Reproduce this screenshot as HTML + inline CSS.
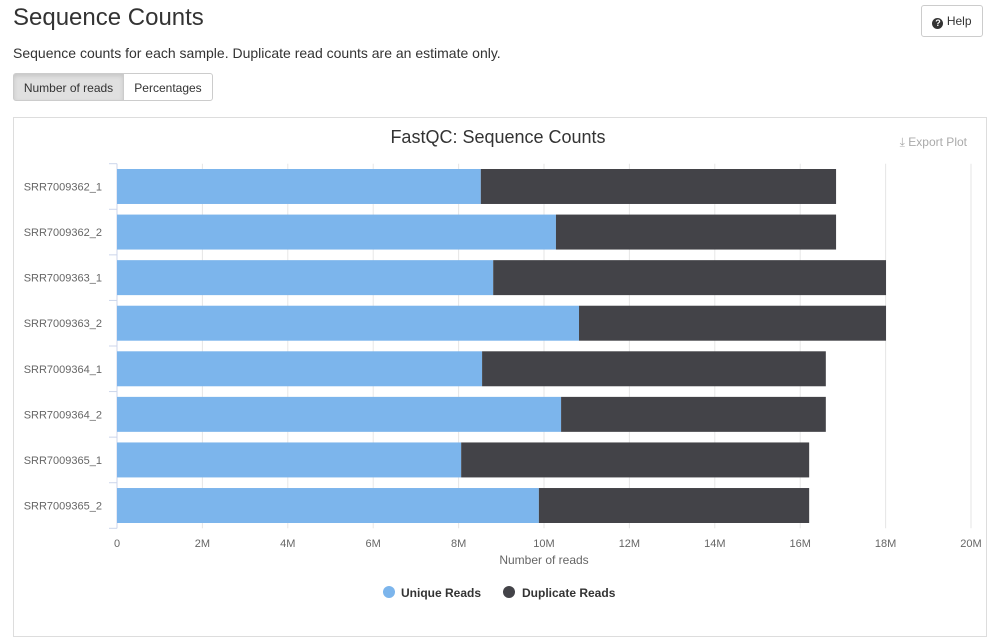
<!DOCTYPE html>
<html><head><meta charset="utf-8"><style>
body{margin:0;width:995px;height:608px;overflow:hidden;background:#fff;font-family:"Liberation Sans",sans-serif;color:#333;position:relative}
h1{position:absolute;left:13px;top:4px;margin:0;font-size:24px;font-weight:400;color:#333}
.desc{position:absolute;left:13px;top:45px;font-size:14px}
.btn{position:absolute;top:73px;height:28px;line-height:28px;font-size:12px;border:1px solid #ccc;text-align:center;box-sizing:border-box}
.help{position:absolute;left:921px;top:5px;width:62px;height:32px;border:1px solid #ccc;border-radius:3px;font-size:12px;line-height:30px;text-align:center;box-sizing:border-box}
.qi{display:inline-block;width:11px;height:11px;border-radius:50%;background:#333;color:#fff;font-size:9px;line-height:11px;font-weight:bold;vertical-align:-1px}
.panel{position:absolute;left:13px;top:117px;width:974px;height:520px;border:1px solid #ddd;box-sizing:border-box}
</style></head><body>
<h1>Sequence Counts</h1>
<div class="desc">Sequence counts for each sample. Duplicate read counts are an estimate only.</div>
<div class="btn" style="left:13px;width:111px;background:#e0e0e0;border-radius:3px 0 0 3px;box-shadow:inset 0 2px 4px rgba(0,0,0,.12)">Number of reads</div>
<div class="btn" style="left:123px;width:90px;border-radius:0 3px 3px 0">Percentages</div>
<div class="help"><span class="qi">?</span> Help</div>
<div class="panel"></div>
<svg id="chart" width="995" height="608" style="position:absolute;left:0;top:0"></svg>
<script>
const categories=["SRR7009362_1","SRR7009362_2","SRR7009363_1","SRR7009363_2","SRR7009364_1","SRR7009364_2","SRR7009365_1","SRR7009365_2"];
const uniqueReads=[8.52,10.28,8.81,10.82,8.55,10.40,8.06,9.88];
const duplicateReads=[8.32,6.56,9.20,7.19,8.05,6.20,8.15,6.33];
const xTicks=[0,2,4,6,8,10,12,14,16,18,20];
const X0=117,X1=971,XMAX=20,YT=163.7,YB=528.3;
const x=v=>X0+(v/XMAX)*(X1-X0);
const band=(YB-YT)/categories.length;
const y=i=>YT+i*band;
const svg=document.getElementById('chart');
const NS="http://www.w3.org/2000/svg";
function mk(t,a,txt){const e=document.createElementNS(NS,t);for(const k in a)e.setAttribute(k,a[k]);if(txt!=null)e.textContent=txt;svg.appendChild(e);return e;}
let e;
e=mk('text',{x:498,y:143,'text-anchor':'middle','font-size':18,fill:'#333','font-family':'Liberation Sans'},'FastQC: Sequence Counts');


e=mk('text',{x:967,y:146,'text-anchor':'end','font-size':12,fill:'#aaa','font-family':'Liberation Sans'},'⤓ Export Plot');


xTicks.forEach(t=>{
 e=mk('line',{x1:x(t),x2:x(t),y1:YT,y2:YB,stroke:'#e6e6e6'});
 
 
 e=mk('text',{x:x(t),y:547,'text-anchor':'middle','font-size':11,fill:'#666','font-family':'Liberation Sans'},t===0?'0':t+'M');
 
 
});
e=mk('line',{x1:X0,x2:X0,y1:YT,y2:YB,stroke:'#ccd6eb'});


for(let i=0;i<=categories.length;i++){e=mk('line',{x1:X0-8,x2:X0,y1:y(i),y2:y(i),stroke:'#ccd6eb'});

}
categories.forEach((c,i)=>{
 const by=y(i)+5.3,bh=band-10.6;
 e=mk('rect',{x:x(0),y:by,width:x(uniqueReads[i])-x(0),height:bh,fill:'#7cb5ec'});
 
 
 e=mk('rect',{x:x(uniqueReads[i]),y:by,width:x(uniqueReads[i]+duplicateReads[i])-x(uniqueReads[i]),height:bh,fill:'#434348'});
 
 
 e=mk('text',{x:102,y:y(i)+band/2+4,'text-anchor':'end','font-size':11,fill:'#666','font-family':'Liberation Sans'},c);
 
 
});
e=mk('text',{x:544,y:564,'text-anchor':'middle','font-size':12,fill:'#666','font-family':'Liberation Sans'},'Number of reads');


e=mk('circle',{cx:389,cy:592,r:6,fill:'#7cb5ec'});


e=mk('text',{x:401,y:597,'font-size':12,'font-weight':'bold',fill:'#333','font-family':'Liberation Sans'},'Unique Reads');


e=mk('circle',{cx:509,cy:592,r:6,fill:'#434348'});


e=mk('text',{x:522,y:597,'font-size':12,'font-weight':'bold',fill:'#333','font-family':'Liberation Sans'},'Duplicate Reads');


</script>
</body></html>
